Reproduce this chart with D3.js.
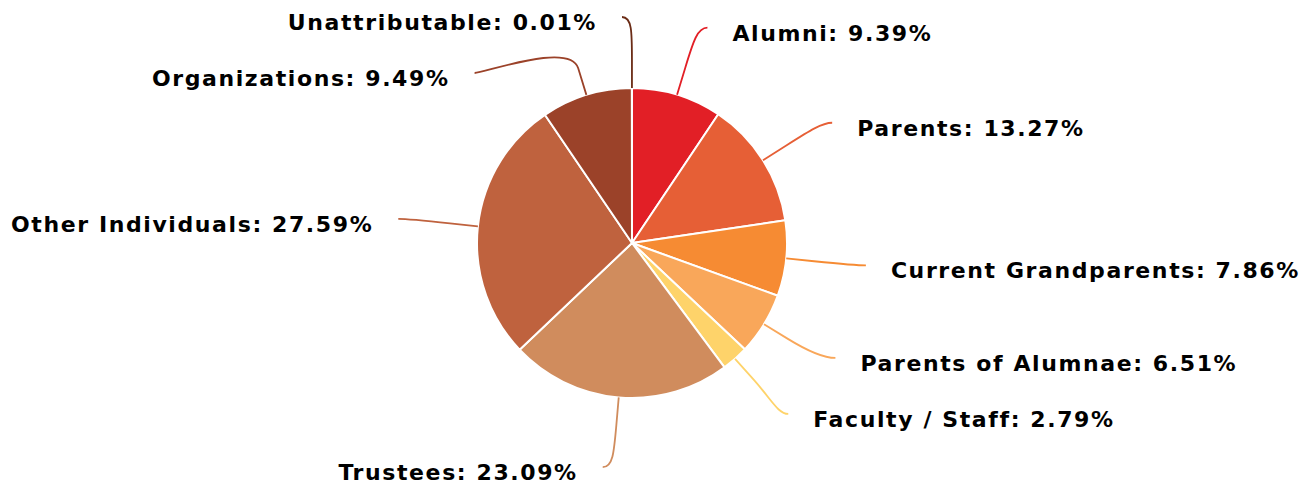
<!DOCTYPE html>
<html>
<head>
<meta charset="utf-8">
<script src="https://cdn.jsdelivr.net/npm/d3@7"></script>
<style>
  body { margin: 0; background: #fff; }
  .label {
    font-family: "DejaVu Sans", sans-serif;
    font-weight: bold;
    font-size: 22px;
    letter-spacing: 1.6px;
    fill: #000;
    stroke: #fff;
    stroke-width: 2px;
    paint-order: stroke;
  }
</style>
</head>
<body>
<svg></svg>
<script>
const categories = ["Alumni", "Parents", "Current Grandparents", "Parents of Alumnae",
  "Faculty / Staff", "Trustees", "Other Individuals", "Organizations", "Unattributable"];
const shares = [9.39, 13.27, 7.86, 6.51, 2.79, 23.09, 27.59, 9.49, 0.01];
const colors = ["#e21f26", "#e65f36", "#f68b33", "#f9a75a", "#fed36a",
  "#d08c5d", "#bf623e", "#9b4229", "#6b2c16"];

const width = 1314, height = 485;
const cx = 632, cy = 243, radius = 155;
const labelDistance = 70;           // label ring = radius + labelDistance
const connectorOffset = 28;
const pad = 10, textGap = 25, minGap = 56;
const yMin = 17, yMax = 470;

const svg = d3.select("svg")
    .attr("width", width)
    .attr("height", height);

const data = categories.map((c, i) => ({ name: c, value: shares[i], color: colors[i] }));

const pie = d3.pie().sort(null).value(d => d.value);
const arcs = pie(data);
const arc = d3.arc().innerRadius(0).outerRadius(radius);

const g = svg.append("g").attr("transform", `translate(${cx},${cy})`);

g.selectAll("path.slice")
  .data(arcs)
  .enter().append("path")
    .attr("class", "slice")
    .attr("d", arc)
    .attr("fill", d => d.data.color)
    .attr("stroke", "#fff")
    .attr("stroke-width", 2)
    .attr("stroke-linejoin", "round");

// polar helper, angle clockwise from 12 o'clock
function at(a, rho) { return [Math.sin(a) * rho, -Math.cos(a) * rho]; }

const R = radius + labelDistance;
const labels = arcs.map(d => {
  const a = (d.startAngle + d.endAngle) / 2;
  return {
    d: d, a: a,
    left: a > Math.PI,
    ny: -Math.cos(a) * R + cy
  };
});

// spread labels in each half so they do not overlap
function distribute(items) {
  items.sort((p, q) => p.ny - q.ny);
  let clusters = items.map(it => ({ items: [it] }));
  function place(c) {
    const n = c.items.length;
    let s = 0;
    c.items.forEach((it, i) => { s += it.ny - i * minGap; });
    let top = s / n;
    top = Math.max(yMin, Math.min(yMax - (n - 1) * minGap, top));
    c.top = top;
  }
  clusters.forEach(place);
  let changed = true;
  while (changed) {
    changed = false;
    for (let i = 0; i < clusters.length - 1; i++) {
      const c = clusters[i], nx = clusters[i + 1];
      if (c.top + c.items.length * minGap > nx.top) {
        c.items = c.items.concat(nx.items);
        clusters.splice(i + 1, 1);
        place(c);
        changed = true;
        break;
      }
    }
  }
  clusters.forEach(c => c.items.forEach((it, i) => { it.y = c.top + i * minGap; }));
}
distribute(labels.filter(l => !l.left));
distribute(labels.filter(l => l.left));

labels.forEach(l => {
  const s = Math.max(-1, Math.min(1, (l.y - cy) / R));
  const dx = Math.cos(Math.asin(s)) * R + pad;
  l.x = l.left ? cx - dx : cx + dx;
});

const lg = svg.append("g");

lg.selectAll("path.connector")
  .data(labels)
  .enter().append("path")
    .attr("class", "connector")
    .attr("fill", "none")
    .attr("stroke", l => l.d.data.color)
    .attr("stroke-width", 1.8)
    .attr("d", l => {
      const t = at(l.a, radius), b = at(l.a, radius + connectorOffset);
      const tx = t[0] + cx, ty = t[1] + cy, bx = b[0] + cx, by = b[1] + cy;
      const c1x = l.x + (l.left ? 10 : -10);
      return `M${l.x},${l.y} C${c1x},${l.y} ${2 * bx - tx},${2 * by - ty} ${bx},${by} L${tx},${ty}`;
    });

lg.selectAll("text.label")
  .data(labels)
  .enter().append("text")
    .attr("class", "label")
    .attr("x", l => l.left ? l.x - textGap : l.x + textGap)
    .attr("y", l => l.y + 13)
    .attr("text-anchor", l => l.left ? "end" : "start")
    .text(l => `${l.d.data.name}: ${l.d.data.value.toFixed(2)}%`);
</script>
</body>
</html>
